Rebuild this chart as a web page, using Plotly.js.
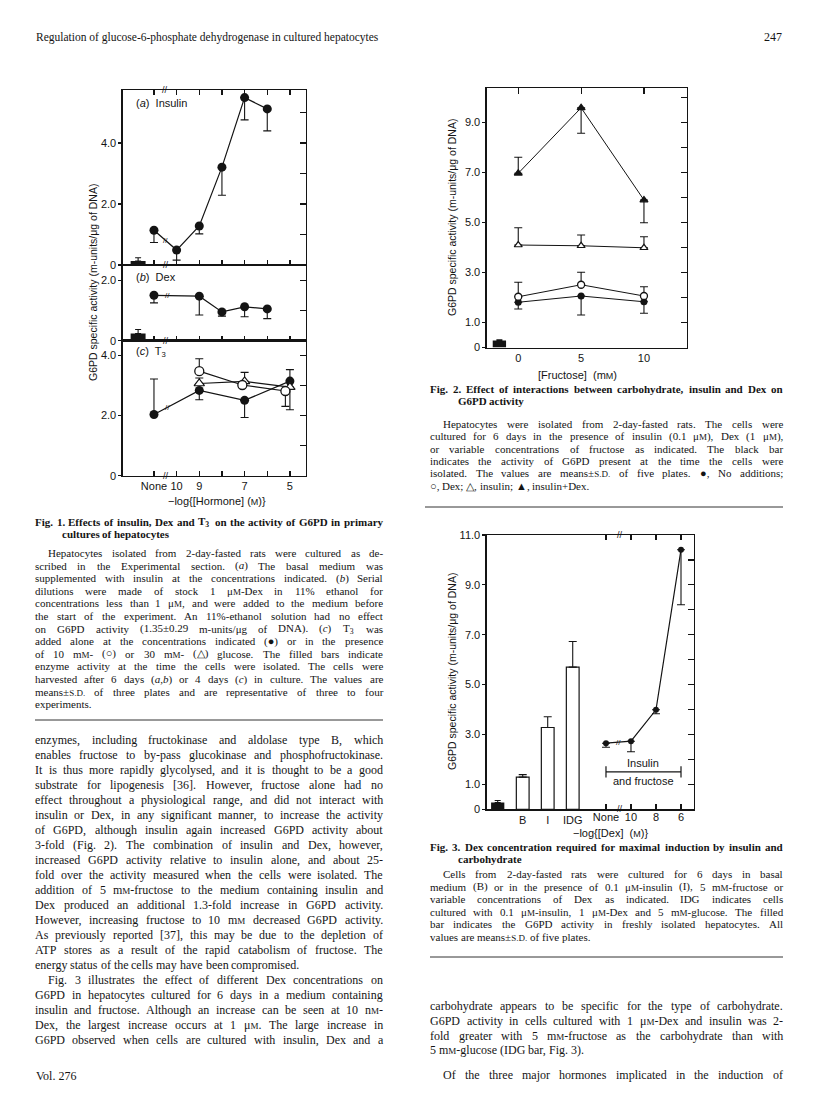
<!DOCTYPE html>
<html>
<head>
<meta charset="utf-8">
<script src="https://cdn.plot.ly/plotly-3.0.1.min.js"></script>
<style>
  body { margin: 0; background: #fff; }
  #page { width: 816px; height: 1108px; }
</style>
</head>
<body>
<div id="page"></div>
<script>
// ---- data ----

// Fig. 1: x is -log[hormone]; "None" sits at 11, freshly isolated bar at 11.7
var hormoneTicks = [11, 10, 9, 8, 7, 6, 5];
var hormoneText = ['None', '10', '9', '', '7', '', '5'];
var isolatedX = 11.7;

var insulinX = [11, 10, 9, 8, 7, 6];
var insulinY = [1.14, 0.49, 1.28, 3.21, 5.49, 5.12];
var insulinLo = [0.40, 0.33, 0.26, 0.92, 0.73, 0.72];
var insulinBar = 0.13, insulinBarErr = 0.11;

var dexX = [11, 9, 8, 7, 6];
var dexY = [1.50, 1.47, 0.95, 1.12, 1.05];
var dexLo = [0.25, 0.62, 0.14, 0.33, 0.32];
var dexBar = 0.24, dexBarErr = 0.13;

var t3X = [11, 9, 7, 5];
var t3Y = [2.03, 2.83, 2.50, 3.14];
var t3Up = [1.18, 0, 0, 0.38];
var t3Lo = [0, 0.31, 0.57, 0];
var t3GlcX = [9, 7.1, 5.2];          // 10 mM glucose (open circles)
var t3GlcY = [3.47, 3.01, 2.81];
var t3GlcUp = [0.41, 0, 0];
var t3GlcLo = [0, 0, 0.51];
var t3Glc30X = [9, 7, 5];            // 30 mM glucose (open triangles)
var t3Glc30Y = [3.06, 3.13, 2.94];
var t3Glc30Up = [0.18, 0.30, 0];
var t3Glc30Lo = [0, 0, 0.75];

// Fig. 2: fructose (mM)
var fructose = [0, 5, 10];
var fNoneY = [1.81, 2.06, 1.83], fNoneLo = [0.27, 0.76, 0.46];
var fDexY = [2.03, 2.51, 2.06], fDexUp = [0.58, 0.50, 0.37];
var fInsY = [4.10, 4.07, 3.99], fInsUp = [0.69, 0.43, 0.44];
var fInsDexY = [6.97, 9.59, 5.90], fInsDexUp = [0.64, 0, 0], fInsDexLo = [0, 1.02, 0.91];
var fIsoX = -1.5, fIsoY = 0.28, fIsoErr = 0.03;

// Fig. 3: bars B, I, IDG then the Dex series
var barLabels = ['B', 'I', 'IDG'];
var barPos = [1, 2, 3];
var barY = [1.29, 3.28, 5.70];
var barErr = [0.10, 0.43, 1.03];
var isoBarY = 0.27, isoBarErr = 0.08;
var dexLabels = ['None', '10', '8', '6'];
var dexPos = [4.33, 5.33, 6.33, 7.33];
var dex3Y = [2.65, 2.73, 3.99, 10.41];
var dex3Lo = [0.16, 0.42, 0.16, 2.21];

// ---- page helpers ----
var W = 816, H = 1108;
var SERIF = '"Liberation Serif", "Times New Roman", serif';
var SANS = '"Liberation Sans", Arial, sans-serif';
var INK = '#141414';
function fx(p) { return p / W; }
function fy(p) { return 1 - p / H; }
function zeros(a) { return a.map(function () { return 0; }); }
function lerp(xs, ys, i, x) { var t = (x - xs[i]) / (xs[i + 1] - xs[i]); return ys[i] + t * (ys[i + 1] - ys[i]); }

// small capitals: tag without spaces so word splitting leaves it whole
var SC = function (s) { return '<span\u00a0style="font-size:9px">' + s + '</span>'; };
var mM = 'm' + SC('M'), uM = 'μ' + SC('M'), nM = 'n' + SC('M'), SD = SC('S.D.');

var ann = [];
var shapes = [];
var ctx = document.createElement('canvas').getContext('2d');
function strip(s) { return s.replace(/<[^>]+>/g, ''); }
function fixTag(s) { return s.replace(/<span\u00a0style/g, '<span style'); }

function textLine(str, x0, x1, y, size, bold, justify) {
  var words = str.split(' ');
  ctx.font = (bold ? 'bold ' : '') + size + 'px ' + SERIF;
  var widths = words.map(function (w) {
    var full = ctx.measureText(strip(w)).width;
    // small-caps parts are drawn at 9px
    var sc = w.match(/font-size:9px">([^<]*)</g) || [];
    sc.forEach(function (m) {
      var t = m.replace(/^font-size:9px">/, '').replace(/<$/, '');
      full -= ctx.measureText(t).width * (1 - 9 / size);
    });
    return full;
  });
  var total = widths.reduce(function (a, b) { return a + b; }, 0);
  var space = ctx.measureText(' ').width;
  var gap = (justify && words.length > 1) ? (x1 - x0 - total) / (words.length - 1) : space;
  var x = x0;
  words.forEach(function (w, i) {
    var t = fixTag(w);
    ann.push({
      xref: 'paper', yref: 'paper', x: fx(x), y: fy(y), xanchor: 'left', yanchor: 'middle',
      text: bold ? '<b>' + t + '</b>' : t, showarrow: false, borderpad: 0, borderwidth: 0,
      font: { family: SERIF, size: size, color: INK }
    });
    x += widths[i] + gap;
  });
}

function para(lines, x0, x1, y0, dy, size, o) {
  lines.forEach(function (t, i) {
    var left = x0 + ((o.indentAt || [0]).indexOf(i) >= 0 ? (o.indent || 0) : 0);
    var just = (o.free || []).indexOf(i) < 0;
    textLine(t, left, x1, y0 + i * dy, size, o.bold, just);
  });
}

function label(text, x, y, size, opts) {
  opts = opts || {};
  ann.push({
    xref: opts.xref || 'paper', yref: opts.yref || 'paper',
    x: opts.xref ? x : fx(x), y: opts.yref ? y : fy(y),
    xanchor: opts.xanchor || 'center', yanchor: 'middle', showarrow: false,
    textangle: opts.angle || 0, text: fixTag(text), borderpad: 0,
    font: { family: opts.family || SANS, size: size, color: INK }
  });
}

function rule(x0, x1, y) {
  shapes.push({ type: 'line', xref: 'paper', yref: 'paper', x0: fx(x0), x1: fx(x1), y0: fy(y), y1: fy(y),
    line: { color: '#333', width: 1 } });
}

// ---- axes ----
var tickFont = { family: SANS, size: 11, color: INK };
function xAxis(domain, range, anchor, vals, text, labels, mirror, ticks) {
  return { domain: domain, range: range, anchor: anchor, showline: true, linecolor: INK, linewidth: 1.3,
    mirror: mirror, ticks: ticks, ticklen: 5, tickwidth: 1.2, tickcolor: INK,
    tickvals: vals, ticktext: text, showticklabels: labels, tickfont: tickFont,
    showgrid: false, zeroline: false, fixedrange: true };
}
function yAxis(domain, range, anchor, vals, text) {
  return { domain: domain, range: range, anchor: anchor, showline: true, linecolor: INK, linewidth: 1.3,
    mirror: true, ticks: 'outside', ticklen: 3, tickwidth: 1.2, tickcolor: INK,
    tickvals: vals, ticktext: text, tickfont: tickFont, showgrid: false, zeroline: false, fixedrange: true };
}
function yRight(over, range, anchor, vals) {
  return { overlaying: over, side: 'right', anchor: anchor, range: range, tickvals: vals,
    ticks: 'inside', ticklen: 6, tickwidth: 1.2, tickcolor: INK, showticklabels: false,
    showline: false, showgrid: false, zeroline: false, fixedrange: true };
}

var f1x = [fx(122.7), fx(306)];
var f1r = [12.38, 4.29];
var rA = [0, 5.74], rB = [0, 2.5], rC = [0, 4.48];
var f2r = [-2.51, 13.4], f2y = [0, 10.37];
var f3r = [-0.44, 7.85], f3y = [0, 11];

var layout = {
  width: W, height: H, margin: { l: 0, r: 0, t: 0, b: 0 },
  paper_bgcolor: '#fff', plot_bgcolor: 'rgba(0,0,0,0)', showlegend: false, barmode: 'overlay',
  xaxis: xAxis(f1x, f1r, 'y', hormoneTicks, hormoneText, false, 'ticks', 'inside'),
  xaxis2: xAxis(f1x, f1r, 'y2', hormoneTicks, hormoneText, false, true, 'inside'),
  xaxis3: xAxis(f1x, f1r, 'y3', hormoneTicks, hormoneText, true, true, 'inside'),
  yaxis: yAxis([fy(265), fy(90)], rA, 'x', [0, 2, 4], ['0', '2.0', '4.0']),
  yaxis2: yAxis([fy(340.7), fy(265)], rB, 'x2', [0, 2], ['0', '2.0']),
  yaxis3: yAxis([fy(475.7), fy(340.7)], rC, 'x3', [0, 2, 4], ['0', '2.0', '4.0']),
  yaxis4: yRight('y', rA, 'x', [1, 2, 3, 4, 5]),
  yaxis5: yRight('y2', rB, 'x2', [1, 2]),
  yaxis6: yRight('y3', rC, 'x3', [1, 2, 3, 4]),

  xaxis4: xAxis([fx(486.7), fx(686.7)], f2r, 'y7', fructose, fructose.map(String), true, true, ''),
  xaxis5: { overlaying: 'x4', side: 'top', anchor: 'y7', range: f2r, tickvals: fructose, ticks: 'inside',
    ticklen: 6, tickwidth: 1.2, tickcolor: INK, showticklabels: false, showline: false, showgrid: false,
    zeroline: false, fixedrange: true },
  yaxis7: yAxis([fy(347.5), fy(88.3)], f2y, 'x4', [0, 1, 3, 5, 7, 9], ['0', '1.0', '3.0', '5.0', '7.0', '9.0']),
  yaxis8: yRight('y7', f2y, 'x4', [1, 2, 3, 4, 5, 6, 7, 8, 9, 10]),

  xaxis6: xAxis([fx(486.7), fx(694)], f3r, 'y9', barPos, barLabels, true, true, ''),
  xaxis7: { overlaying: 'x6', side: 'bottom', anchor: 'y9', range: f3r, tickvals: dexPos, ticktext: dexLabels,
    ticks: 'inside', ticklen: 5, tickwidth: 1.2, tickcolor: INK, mirror: 'ticks', tickfont: tickFont,
    showline: false, showgrid: false, zeroline: false, fixedrange: true },
  yaxis9: yAxis([fy(809.3), fy(535)], f3y, 'x6', [0, 1, 3, 5, 7, 9, 11],
    ['0', '1.0', '3.0', '5.0', '7.0', '9.0', '11.0']),
  yaxis10: yRight('y9', f3y, 'x6', [1, 2, 3, 4, 5, 6, 7, 8, 9, 10])
};

// ---- traces ----
function errBar(up, lo, w) {
  return { type: 'data', symmetric: false, array: up, arrayminus: lo, color: INK, thickness: 1.1, width: w || 4, visible: true };
}
function series(x, y, xa, ya, marker, up, lo, lw) {
  return { type: 'scatter', mode: 'lines+markers', x: x, y: y, xaxis: xa, yaxis: ya, cliponaxis: false,
    line: { color: INK, width: lw || 1.2 }, marker: marker, error_y: errBar(up, lo), hoverinfo: 'skip' };
}
function dot(size) { return { symbol: 'circle', size: size, color: INK }; }
function ring(size) { return { symbol: 'circle', size: size, color: '#fff', line: { color: INK, width: 1.3 } }; }
function tri(size, filled) { return { symbol: 'triangle-up', size: size, color: filled ? INK : '#fff', line: { color: INK, width: 1.2 } }; }
function blackBar(x, y, err, w, xa, ya) {
  return { type: 'bar', x: [x], y: [y], width: w, xaxis: xa, yaxis: ya, marker: { color: INK, line: { width: 0 } },
    error_y: errBar([err], [0], 3), hoverinfo: 'skip' };
}
function dummy(xa, ya) { return { type: 'scatter', x: [null], y: [null], xaxis: xa, yaxis: ya, hoverinfo: 'skip' }; }

var data = [
  // Fig. 1
  blackBar(isolatedX, insulinBar, insulinBarErr, 0.66, 'x', 'y'),
  series(insulinX, insulinY, 'x', 'y', dot(9), zeros(insulinY), insulinLo),
  blackBar(isolatedX, dexBar, dexBarErr, 0.66, 'x2', 'y2'),
  series(dexX, dexY, 'x2', 'y2', dot(9), zeros(dexY), dexLo),
  series(t3X, t3Y, 'x3', 'y3', dot(9), t3Up, t3Lo),
  series(t3Glc30X, t3Glc30Y, 'x3', 'y3', tri(9, false), t3Glc30Up, t3Glc30Lo),
  series(t3GlcX, t3GlcY, 'x3', 'y3', ring(9), t3GlcUp, t3GlcLo),
  dummy('x', 'y4'), dummy('x2', 'y5'), dummy('x3', 'y6'),
  // Fig. 2
  blackBar(fIsoX, fIsoY, fIsoErr, 1.06, 'x4', 'y7'),
  series(fructose, fNoneY, 'x4', 'y7', dot(7), zeros(fNoneY), fNoneLo, 1),
  series(fructose, fDexY, 'x4', 'y7', ring(7), fDexUp, zeros(fDexY), 1),
  series(fructose, fInsY, 'x4', 'y7', tri(7, false), fInsUp, zeros(fInsY), 1),
  series(fructose, fInsDexY, 'x4', 'y7', tri(7, true), fInsDexUp, fInsDexLo, 1),
  dummy('x5', 'y7'), dummy('x4', 'y8'),
  // Fig. 3
  blackBar(0, isoBarY, isoBarErr, 0.53, 'x6', 'y9'),
  { type: 'bar', x: barPos, y: barY, width: 0.51, xaxis: 'x6', yaxis: 'y9',
    marker: { color: '#fff', line: { color: INK, width: 1.2 } }, error_y: errBar(barErr, zeros(barErr)), hoverinfo: 'skip' },
  series(dexPos, dex3Y, 'x7', 'y9', dot(6), zeros(dex3Y), dex3Lo),
  { type: 'scatter', mode: 'lines+markers', x: [dexPos[0], dexPos[dexPos.length - 1]], y: [1.5, 1.5],
    xaxis: 'x7', yaxis: 'y9', line: { color: INK, width: 1.1 },
    marker: { symbol: 'line-ns-open', size: 8, color: INK, line: { width: 1.2, color: INK } }, hoverinfo: 'skip' },
  dummy('x6', 'y10')
];

// ---- axis breaks "//" ----
function brk(xa, ya, x, y, size) {
  ann.push({ xref: xa, yref: ya, x: x, y: y, text: '//', showarrow: false, borderpad: 0,
    font: { family: SANS, size: size || 9, color: INK } });
}
brk('x', 'y', 10.45, 0); brk('x', 'y', 10.5, rA[1]);
brk('x2', 'y2', 10.45, 0); brk('x3', 'y3', 10.45, 0);
brk('x', 'y', 10.5, lerp(insulinX, insulinY, 0, 10.5), 8);
brk('x2', 'y2', 10.4, lerp(dexX, dexY, 0, 10.4), 8);
brk('x3', 'y3', 10.4, lerp(t3X, t3Y, 0, 10.4), 8);
brk('x6', 'y9', 4.9, 0); brk('x6', 'y9', 4.9, 11);
brk('x7', 'y9', 4.83, lerp(dexPos, dex3Y, 0, 4.83), 8);

// ---- chart labels ----
var yTitle = 'G6PD specific activity (m-units/μg of DNA)';
label(yTitle, 93, 283, 10.5, { angle: -90 });
label(yTitle, 452, 218, 10.5, { angle: -90 });
label(yTitle, 452, 672, 10.5, { angle: -90 });
label('(<i>a</i>)  Insulin', 135, 103, 11, { xanchor: 'left' });
label('(<i>b</i>)  Dex', 135, 277, 11, { xanchor: 'left' });
label('(<i>c</i>)  T<sub>3</sub>', 135, 352, 11, { xanchor: 'left' });
label('−log{[Hormone] (' + SC('M') + ')}', 217, 501, 11);
label('[Fructose]  (m' + SC('M') + ')', 577, 375, 11);
label('−log{[Dex]  (' + SC('M') + ')}', 610, 833, 11);
label('Insulin', (dexPos[0] + dexPos[3]) / 2, 1.85, 11, { xref: 'x7', yref: 'y9' });
label('and fructose', (dexPos[0] + dexPos[3]) / 2, 1.15, 11, { xref: 'x7', yref: 'y9' });

// ---- running head / folio ----
label('Regulation of glucose-6-phosphate dehydrogenase in cultured hepatocytes', 35, 37, 11.5,
  { xanchor: 'left', family: SERIF });
label('247', 783, 37, 12, { xanchor: 'right', family: SERIF });
label('Vol. 276', 35, 1076, 12, { xanchor: 'left', family: SERIF });

// ---- captions ----
textLine('Fig. 1. Effects of insulin, Dex and T<sub>3</sub> on the activity of G6PD in primary', 35, 383, 522, 11, true, true);
textLine('cultures of hepatocytes', 62, 383, 534, 11, true, false);
para([
  'Hepatocytes isolated from 2-day-fasted rats were cultured as de-',
  'scribed in the Experimental section. (<i>a</i>) The basal medium was',
  'supplemented with insulin at the concentrations indicated. (<i>b</i>) Serial',
  'dilutions were made of stock 1 ' + uM + '-Dex in 11% ethanol for',
  'concentrations less than 1 ' + uM + ', and were added to the medium before',
  'the start of the experiment. An 11%-ethanol solution had no effect',
  'on G6PD activity (1.35±0.29 m-units/μg of DNA). (<i>c</i>) T<sub>3</sub> was',
  'added alone at the concentrations indicated (●) or in the presence',
  'of 10 ' + mM + '- (○) or 30 ' + mM + '- (△) glucose. The filled bars indicate',
  'enzyme activity at the time the cells were isolated. The cells were',
  'harvested after 6 days (<i>a,b</i>) or 4 days (<i>c</i>) in culture. The values are',
  'means±' + SD + ' of three plates and are representative of three to four',
  'experiments.'
], 35, 383, 553, 12.6, 11, { indent: 13, free: [12] });
rule(35, 383, 720);

textLine('Fig. 2. Effect of interactions between carbohydrate, insulin and Dex on', 430, 783, 389, 11, true, true);
textLine('G6PD activity', 458, 783, 401, 11, true, false);
para([
  'Hepatocytes were isolated from 2-day-fasted rats. The cells were',
  'cultured for 6 days in the presence of insulin (0.1 ' + uM + '), Dex (1 ' + uM + '),',
  'or variable concentrations of fructose as indicated. The black bar',
  'indicates the activity of G6PD present at the time the cells were',
  'isolated. The values are means±' + SD + ' of five plates. ●, No additions;',
  '○, Dex; △, insulin; ▲, insulin+Dex.'
], 430, 783, 424, 12.3, 11, { indent: 13, free: [5] });
rule(425, 783, 507);

textLine('Fig. 3. Dex concentration required for maximal induction by insulin and', 430, 783, 847, 11, true, true);
textLine('carbohydrate', 458, 783, 859, 11, true, false);
para([
  'Cells from 2-day-fasted rats were cultured for 6 days in basal',
  'medium (B) or in the presence of 0.1 ' + uM + '-insulin (I), 5 ' + mM + '-fructose or',
  'variable concentrations of Dex as indicated. IDG indicates cells',
  'cultured with 0.1 ' + uM + '-insulin, 1 ' + uM + '-Dex and 5 ' + mM + '-glucose. The filled',
  'bar indicates the G6PD activity in freshly isolated hepatocytes. All',
  'values are means±' + SD + ' of five plates.'
], 430, 783, 874, 12.5, 11, { indent: 13, free: [5] });
rule(430, 783, 957);

// ---- body text ----
para([
  'enzymes, including fructokinase and aldolase type B, which',
  'enables fructose to by-pass glucokinase and phosphofructokinase.',
  'It is thus more rapidly glycolysed, and it is thought to be a good',
  'substrate for lipogenesis [36]. However, fructose alone had no',
  'effect throughout a physiological range, and did not interact with',
  'insulin or Dex, in any significant manner, to increase the activity',
  'of G6PD, although insulin again increased G6PD activity about',
  '3-fold (Fig. 2). The combination of insulin and Dex, however,',
  'increased G6PD activity relative to insulin alone, and about 25-',
  'fold over the activity measured when the cells were isolated. The',
  'addition of 5 ' + mM + '-fructose to the medium containing insulin and',
  'Dex produced an additional 1.3-fold increase in G6PD activity.',
  'However, increasing fructose to 10 ' + mM + ' decreased G6PD activity.',
  'As previously reported [37], this may be due to the depletion of',
  'ATP stores as a result of the rapid catabolism of fructose. The',
  'energy status of the cells may have been compromised.',
  'Fig. 3 illustrates the effect of different Dex concentrations on',
  'G6PD in hepatocytes cultured for 6 days in a medium containing',
  'insulin and fructose. Although an increase can be seen at 10 ' + nM + '-',
  'Dex, the largest increase occurs at 1 ' + uM + '. The large increase in',
  'G6PD observed when cells are cultured with insulin, Dex and a'
], 35, 383, 740, 15, 12, { indent: 13, indentAt: [16], free: [15] });

para([
  'carbohydrate appears to be specific for the type of carbohydrate.',
  'G6PD activity in cells cultured with 1 ' + uM + '-Dex and insulin was 2-',
  'fold greater with 5 ' + mM + '-fructose as the carbohydrate than with',
  '5 ' + mM + '-glucose (IDG bar, Fig. 3).'
], 430, 783, 1006, 14.8, 12, { free: [3] });
para([
  'Of the three major hormones implicated in the induction of'
], 430, 783, 1075, 14.8, 12, { indent: 13 });

layout.annotations = ann;
layout.shapes = shapes;

Plotly.newPlot('page', data, layout, { staticPlot: true, displayModeBar: false });
</script>
</body>
</html>
